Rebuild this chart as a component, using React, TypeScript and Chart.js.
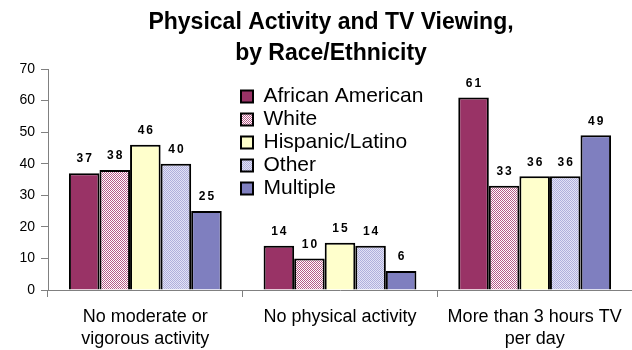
import React, { useEffect, useRef } from "react";
import { Chart, registerables } from "chart.js";

Chart.register(...registerables);

const titleLines = ["Physical Activity and TV Viewing,", "by Race/Ethnicity"];
const categories = [
  ["No moderate or", "vigorous activity"],
  "No physical activity",
  ["More than 3 hours TV", "per day"],
];
const seriesNames = ["African American", "White", "Hispanic/Latino", "Other", "Multiple"];
const africanAmerican = [37, 14, 61];
const white = [38, 10, 33];
const hispanicLatino = [46, 15, 36];
const other = [40, 14, 36];
const multiple = [25, 6, 49];
const yTicks = { min: 0, max: 70, step: 10 };

const FONT = '"Liberation Sans", Arial, sans-serif';

function checker(a: string, b: string): CanvasPattern | string {
  const c = document.createElement("canvas");
  c.width = 2;
  c.height = 2;
  const x = c.getContext("2d");
  if (!x) return a;
  x.fillStyle = b;
  x.fillRect(0, 0, 2, 2);
  x.fillStyle = a;
  x.fillRect(0, 0, 1, 1);
  x.fillRect(1, 1, 1, 1);
  const p = x.createPattern(c, "repeat");
  return p || a;
}

const boxPlacement = {
  id: "boxPlacement",
  afterLayout(chart: any) {
    const ca = chart.chartArea;
    const t = chart.titleBlock;
    if (t) {
      t.left += 15;
      t.right += 15;
    }
    const lg = chart.legend;
    if (lg) {
      const w = lg.width;
      lg.left = ca.left + 191;
      lg.top = ca.top + 15;
      lg.right = lg.left + w;
      lg.bottom = ca.bottom;
      lg.height = lg.bottom - lg.top;
    }
  },
};

const valueLabels = {
  id: "valueLabels",
  afterDatasetsDraw(chart: any) {
    const ctx = chart.ctx;
    ctx.save();
    ctx.font = `bold 12px ${FONT}`;
    ctx.fillStyle = "#000";
    ctx.textAlign = "center";
    ctx.textBaseline = "middle";
    try {
      (ctx as any).letterSpacing = "2px";
    } catch (e) {}
    chart.data.datasets.forEach((ds: any, di: number) => {
      const meta = chart.getDatasetMeta(di);
      meta.data.forEach((el: any, i: number) => {
        ctx.fillText(String(ds.data[i]), el.x + 1, el.y - 14);
      });
    });
    ctx.restore();
  },
};

export default function App() {
  const ref = useRef<HTMLCanvasElement | null>(null);

  useEffect(() => {
    if (!ref.current) return;
    const fills = [
      "#993366",
      checker("#b65a88", "#ffffff"),
      "#ffffcc",
      checker("#b0b0dc", "#e2e2f6"),
      "#7f7fbf",
    ];
    const values = [africanAmerican, white, hispanicLatino, other, multiple];
    const chart = new Chart(ref.current, {
      type: "bar",
      data: {
        labels: categories as any,
        datasets: seriesNames.map((name, i) => ({
          label: name,
          data: values[i],
          backgroundColor: fills[i] as any,
          borderColor: "#000000",
          borderWidth: 2,
          categoryPercentage: 0.785,
          barPercentage: 1,
        })),
      },
      options: {
        animation: false,
        responsive: false,
        devicePixelRatio: 1,
        layout: { padding: { left: 0, right: 0, top: 0, bottom: 0 } },
        plugins: {
          title: {
            display: true,
            text: titleLines,
            color: "#000",
            font: { family: FONT, size: 23, weight: "bold", lineHeight: "31px" as any },
            padding: { top: 7, bottom: 0 },
          },
          legend: {
            display: true,
            position: "chartArea" as any,
            align: "start",
            labels: {
              boxWidth: 12,
              boxHeight: 12,
              padding: 2,
              color: "#000",
              font: { family: FONT, size: 21 },
            },
          },
          tooltip: { enabled: false },
        },
        scales: {
          x: {
            grid: {
              display: true,
              drawOnChartArea: false,
              drawTicks: true,
              tickLength: 7,
              color: "#808080",
              offset: true,
            },
            border: { display: true, color: "#808080", width: 1 },
            ticks: {
              color: "#000",
              padding: 9,
              maxRotation: 0,
              autoSkip: false,
              font: { family: FONT, size: 18, lineHeight: "22px" as any },
            },
            afterFit(scale: any) {
              scale.height = 60;
            },
          },
          y: {
            min: yTicks.min,
            max: yTicks.max,
            grid: {
              display: true,
              drawOnChartArea: false,
              drawTicks: true,
              tickLength: 7,
              color: "#808080",
            },
            border: { display: true, color: "#808080", width: 1 },
            ticks: {
              stepSize: yTicks.step,
              color: "#000",
              padding: 6,
              font: { family: FONT, size: 14 },
            },
            afterFit(scale: any) {
              scale.width = 48;
            },
          },
        },
      },
      plugins: [boxPlacement, valueLabels],
    });
    return () => chart.destroy();
  }, []);

  return (
    <div style={{ position: "absolute", left: 0, top: 0, width: 632, height: 350, background: "#fff" }}>
      <canvas ref={ref} width={632} height={350} style={{ display: "block" }} />
    </div>
  );
}
